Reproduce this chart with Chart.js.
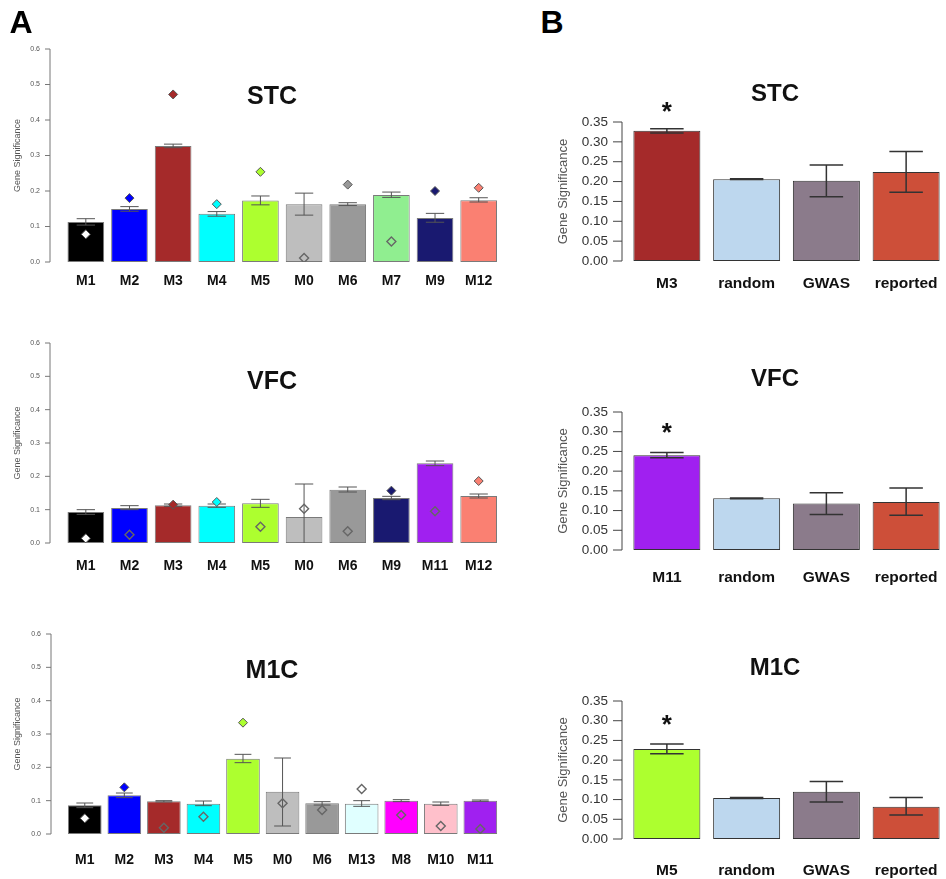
<!DOCTYPE html>
<html>
<head>
<meta charset="utf-8">
<script src="https://cdn.jsdelivr.net/npm/chart.js@4.4.0/dist/chart.umd.min.js"></script>
<style>
html, body { margin: 0; padding: 0; background: #fff; overflow: hidden; width: 946px; height: 879px; }
body { position: relative; font-family: "Liberation Sans", Arial, sans-serif; }
canvas { position: absolute; }
.txt { position: absolute; font-weight: bold; color: #111; line-height: 1; transform: translate(-50%, -50%); white-space: nowrap; }
.letter { font-size: 32px; color: #000; }
.ttlA { font-size: 25px; }
.ttlB { font-size: 24px; }
</style>
</head>
<body>
<div class="txt letter" style="left:21px;top:22px">A</div>
<div class="txt letter" style="left:552px;top:22px">B</div>
<div class="txt ttlA" style="left:272px;top:95px">STC</div>
<div class="txt ttlA" style="left:272px;top:380px">VFC</div>
<div class="txt ttlA" style="left:272px;top:669px">M1C</div>
<div class="txt ttlB" style="left:775px;top:93px">STC</div>
<div class="txt ttlB" style="left:775px;top:378px">VFC</div>
<div class="txt ttlB" style="left:775px;top:667px">M1C</div>
<script>
// ---- data: panel A (module means, error range, overlaid point) ----
const stcLabels = ['M1', 'M2', 'M3', 'M4', 'M5', 'M0', 'M6', 'M7', 'M9', 'M12'];
const stcMeans  = [0.113, 0.149, 0.327, 0.136, 0.173, 0.163, 0.163, 0.189, 0.124, 0.174];
const stcLow    = [0.104, 0.143, 0.322, 0.129, 0.161, 0.132, 0.159, 0.182, 0.112, 0.169];
const stcHigh   = [0.122, 0.156, 0.332, 0.142, 0.186, 0.194, 0.167, 0.197, 0.137, 0.181];
const stcPoints = [0.078, 0.180, 0.472, 0.163, 0.254, 0.011, 0.218, 0.058, 0.200, 0.209];

const vfcLabels = ['M1', 'M2', 'M3', 'M4', 'M5', 'M0', 'M6', 'M9', 'M11', 'M12'];
const vfcMeans  = [0.093, 0.105, 0.113, 0.112, 0.119, 0.078, 0.160, 0.135, 0.239, 0.141];
const vfcLow    = [0.086, 0.100, 0.110, 0.107, 0.107, -0.021, 0.153, 0.130, 0.232, 0.135];
const vfcHigh   = [0.100, 0.112, 0.117, 0.117, 0.131, 0.177, 0.168, 0.140, 0.246, 0.147];
const vfcPoints = [0.014, 0.025, 0.115, 0.123, 0.049, 0.103, 0.035, 0.157, 0.095, 0.186];

const m1cLabels = ['M1', 'M2', 'M3', 'M4', 'M5', 'M0', 'M6', 'M13', 'M8', 'M10', 'M11'];
const m1cMeans  = [0.086, 0.116, 0.098, 0.091, 0.226, 0.127, 0.092, 0.091, 0.100, 0.091, 0.100];
const m1cLow    = [0.079, 0.109, 0.096, 0.085, 0.214, 0.024, 0.087, 0.083, 0.097, 0.086, 0.098];
const m1cHigh   = [0.093, 0.123, 0.100, 0.099, 0.239, 0.228, 0.097, 0.100, 0.103, 0.096, 0.102];
const m1cPoints = [0.047, 0.140, 0.019, 0.052, 0.334, 0.092, 0.072, 0.135, 0.057, 0.024, 0.015];

// ---- data: panel B ----
const stcBLabels = ['M3', 'random', 'GWAS', 'reported'];
const stcBMeans  = [0.328, 0.206, 0.202, 0.224];
const stcBLow    = [0.322, 0.205, 0.162, 0.173];
const stcBHigh   = [0.333, 0.207, 0.242, 0.276];
const stcBStars  = [0.389, null, null, null];

const vfcBLabels = ['M11', 'random', 'GWAS', 'reported'];
const vfcBMeans  = [0.240, 0.131, 0.118, 0.122];
const vfcBLow    = [0.234, 0.130, 0.090, 0.088];
const vfcBHigh   = [0.247, 0.132, 0.145, 0.157];
const vfcBStars  = [0.309, null, null, null];

const m1cBLabels = ['M5', 'random', 'GWAS', 'reported'];
const m1cBMeans  = [0.228, 0.104, 0.120, 0.082];
const m1cBLow    = [0.216, 0.103, 0.094, 0.061];
const m1cBHigh   = [0.241, 0.105, 0.146, 0.105];
const m1cBStars  = [0.302, null, null, null];

const ticksA = [0, 0.6, 0.1];
const ticksB = [0, 0.35, 0.05];

// ---- styles ----
const moduleColors = {
  M0: '#BEBEBE', M1: '#000000', M2: '#0000FF', M3: '#A52A2A', M4: '#00FFFF', M5: '#ADFF2F',
  M6: '#999999', M7: '#90EE90', M8: '#FF00FF', M9: '#191970', M10: '#FFC0CB', M11: '#A020F0',
  M12: '#FA8072', M13: '#E0FFFF', random: '#BDD7EE', GWAS: '#8B7B8B', reported: '#CD4F39'
};
// which overlaid diamonds are filled (others are hollow)
const filledA = {
  stc: [1, 1, 1, 1, 1, 0, 1, 0, 1, 1],
  vfc: [1, 0, 1, 1, 0, 0, 0, 1, 0, 1],
  m1c: [1, 1, 0, 0, 1, 0, 0, 0, 0, 0, 0]
};
const FONT = 'Liberation Sans';

const axisLine = {
  id: 'axisLine',
  afterDraw(chart, args, o) {
    const y = chart.scales.y, ctx = chart.ctx;
    const x = chart.chartArea.left - o.gap;
    ctx.save();
    ctx.strokeStyle = o.color;
    ctx.lineWidth = o.width;
    ctx.beginPath();
    ctx.moveTo(x, y.getPixelForValue(y.min));
    ctx.lineTo(x, y.getPixelForValue(y.max));
    y.ticks.forEach(t => {
      const py = y.getPixelForValue(t.value);
      ctx.moveTo(x - o.tick, py);
      ctx.lineTo(x, py);
    });
    ctx.stroke();
    ctx.restore();
  }
};

const errorBars = {
  id: 'errorBars',
  afterDatasetDraw(chart, args, o) {
    if (args.index !== 0 || !o.lo) return;
    const y = chart.scales.y, ctx = chart.ctx, a = chart.chartArea;
    ctx.save();
    ctx.beginPath();
    ctx.rect(a.left, a.top, a.right - a.left, a.bottom - a.top);
    ctx.clip();
    ctx.strokeStyle = o.color;
    ctx.lineWidth = o.width;
    args.meta.data.forEach((bar, i) => {
      const yl = y.getPixelForValue(o.lo[i]);
      const yh = y.getPixelForValue(o.hi[i]);
      const hw = bar.width * o.cap / 2;
      ctx.beginPath();
      ctx.moveTo(bar.x, yl); ctx.lineTo(bar.x, yh);
      ctx.moveTo(bar.x - hw, yl); ctx.lineTo(bar.x + hw, yl);
      ctx.moveTo(bar.x - hw, yh); ctx.lineTo(bar.x + hw, yh);
      ctx.stroke();
    });
    ctx.restore();
  }
};

const stars = {
  id: 'stars',
  afterDatasetsDraw(chart, args, o) {
    if (!o.values) return;
    const y = chart.scales.y, ctx = chart.ctx;
    const bars = chart.getDatasetMeta(0).data;
    ctx.save();
    ctx.fillStyle = '#111';
    ctx.font = 'bold ' + o.size + 'px ' + FONT;
    ctx.textAlign = 'center';
    ctx.textBaseline = 'alphabetic';
    o.values.forEach((v, i) => {
      if (v === null) return;
      ctx.fillText('*', bars[i].x, y.getPixelForValue(v) + o.size * 0.5);
    });
    ctx.restore();
  }
};

function makeChart(c) {
  const top = c.box.t - c.pad;
  const cv = document.createElement('canvas');
  cv.width = c.box.r - c.left;
  cv.height = c.box.b + c.xh - top;
  cv.style.left = c.left + 'px';
  cv.style.top = top + 'px';
  document.body.insertBefore(cv, document.body.firstChild);

  const datasets = [{
    type: 'bar',
    data: c.means,
    backgroundColor: c.labels.map(l => moduleColors[l]),
    borderColor: c.barBorder,
    borderWidth: 1,
    borderSkipped: false,
    barPercentage: c.barPct,
    categoryPercentage: 1,
    order: 2
  }];
  if (c.points) {
    datasets.push({
      type: 'line',
      data: c.points,
      showLine: false,
      order: 1,
      pointStyle: 'rectRot',
      pointRadius: 4.5,
      pointHoverRadius: 4.5,
      pointBorderWidth: c.labels.map((l, i) => c.filled[i] ? 1 : 1.4),
      pointBorderColor: c.labels.map((l, i) => c.filled[i] ? '#555' : '#666'),
      pointBackgroundColor: c.labels.map((l, i) =>
        c.filled[i] ? (l === 'M1' ? '#FFFFFF' : moduleColors[l]) : 'rgba(0,0,0,0)')
    });
  }

  new Chart(cv, {
    type: 'bar',
    data: { labels: c.labels, datasets },
    plugins: [axisLine, errorBars, stars],
    options: {
      responsive: false,
      animation: false,
      layout: { padding: { top: c.pad, left: 0, right: 0, bottom: 0 } },
      plugins: {
        legend: { display: false },
        tooltip: { enabled: false },
        axisLine: { gap: c.axisGap, tick: c.tickLen, color: c.axisColor, width: 1 },
        errorBars: { lo: c.lo, hi: c.hi, color: c.errColor, width: c.errWidth, cap: 0.5 },
        stars: { values: c.stars || null, size: 26 }
      },
      scales: {
        x: {
          offset: true,
          // hidden tick marks only push the labels down
          grid: { display: false, drawTicks: true, tickLength: c.xpad },
          border: { display: false },
          ticks: {
            color: '#111', autoSkip: false, maxRotation: 0, padding: 0,
            font: { family: FONT, size: c.xFont, weight: 'bold' }
          },
          afterFit: s => { s.height = c.xh; }
        },
        y: {
          min: c.ticks[0], max: c.ticks[1],
          grid: { display: false, drawTicks: true, tickLength: c.yPad },
          border: { display: false },
          ticks: {
            stepSize: c.ticks[2], color: c.tickColor, padding: 0,
            font: { family: FONT, size: c.yFont },
            callback: v => v.toFixed(c.dec)
          },
          title: {
            display: true, text: 'Gene Significance', color: '#555',
            font: { family: FONT, size: c.titleFont },
            padding: { top: c.titlePad, bottom: 0 }
          },
          afterFit: s => { s.width = c.box.l - c.left; }
        }
      }
    }
  });
}

const baseA = {
  left: 0, pad: 10, xh: 40, barBorder: '#7a7a7a', barPct: 0.84,
  axisGap: 14, tickLen: 5, axisColor: '#777', errColor: '#555', errWidth: 1,
  xFont: 14, ticks: ticksA, tickColor: '#555', yPad: 24, yFont: 7, dec: 1,
  titleFont: 9, titlePad: 12
};
const baseB = {
  left: 530, pad: 30, xh: 45, barBorder: '#333', barPct: 0.84,
  axisGap: 5, tickLen: 9, axisColor: '#444', errColor: '#333', errWidth: 1.5,
  xFont: 15.5, ticks: ticksB, tickColor: '#333', yPad: 19, yFont: 13.5, dec: 2,
  titleFont: 13, titlePad: 26
};

makeChart(Object.assign({}, baseA, {
  box: { l: 64, r: 506, t: 49, b: 262 }, xpad: 11,
  labels: stcLabels, means: stcMeans, lo: stcLow, hi: stcHigh, points: stcPoints, filled: filledA.stc
}));
makeChart(Object.assign({}, baseA, {
  box: { l: 64, r: 506, t: 343, b: 543 }, xpad: 15,
  labels: vfcLabels, means: vfcMeans, lo: vfcLow, hi: vfcHigh, points: vfcPoints, filled: filledA.vfc
}));
makeChart(Object.assign({}, baseA, {
  box: { l: 65, r: 506, t: 634, b: 834 }, xpad: 18, barPct: 0.85,
  labels: m1cLabels, means: m1cMeans, lo: m1cLow, hi: m1cHigh, points: m1cPoints, filled: filledA.m1c
}));
makeChart(Object.assign({}, baseB, {
  box: { l: 627, r: 946, t: 122, b: 261 }, xpad: 13,
  labels: stcBLabels, means: stcBMeans, lo: stcBLow, hi: stcBHigh, stars: stcBStars
}));
makeChart(Object.assign({}, baseB, {
  box: { l: 627, r: 946, t: 412, b: 550 }, xpad: 18,
  labels: vfcBLabels, means: vfcBMeans, lo: vfcBLow, hi: vfcBHigh, stars: vfcBStars
}));
makeChart(Object.assign({}, baseB, {
  box: { l: 627, r: 946, t: 701, b: 839 }, xpad: 22,
  labels: m1cBLabels, means: m1cBMeans, lo: m1cBLow, hi: m1cBHigh, stars: m1cBStars
}));
</script>
</body>
</html>
